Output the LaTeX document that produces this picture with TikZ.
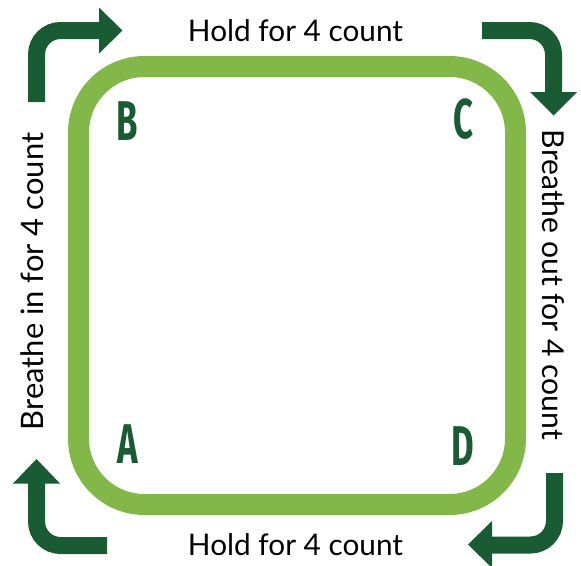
\documentclass[tikz,border=0pt]{standalone}
\usepackage{fontspec}
\usepackage{graphicx}
\setmainfont{Lato}
\newfontfamily\letterfont{Fira Sans}
\definecolor{darkgreen}{HTML}{195C33}
\definecolor{lightgreen}{HTML}{82B847}
\begin{document}
\begin{tikzpicture}[x=1pt,y=-1pt,
  arrowstem/.style={draw=darkgreen,line width=17pt,rounded corners=24pt,line cap=butt},
  arrowhead/.style={fill=darkgreen,draw=none},
  label/.style={inner sep=0pt,anchor=base},
  cornerletter/.style={inner sep=0pt,text=darkgreen,font=\letterfont\bfseries\fontsize{56}{56}\selectfont}]
\useasboundingbox (0,0) rectangle (581,565);
% square
\draw[draw=lightgreen,line width=21pt,rounded corners=66pt] (78.5,66.5) rectangle (515.5,504.5);
% named arrow points
\coordinate (tl0) at (36.5,102);
\coordinate (tl1) at (36.5,30.5);
\coordinate (tl2) at (99.5,30.5);
\coordinate (tr0) at (482,30.5);
\coordinate (tr1) at (553.5,30.5);
\coordinate (tr2) at (553.5,92.5);
\coordinate (br0) at (554.5,473);
\coordinate (br1) at (554.5,545);
\coordinate (br2) at (491.5,545);
\coordinate (bl0) at (107,545.5);
\coordinate (bl1) at (36.5,545.5);
\coordinate (bl2) at (36.5,483);
% top-left arrow
\draw[arrowstem] (tl0) -- (tl1) -- (tl2);
\fill[arrowhead] (99,7.5) -- (122.5,30.5) -- (99,53.5) -- cycle;
% top-right arrow
\draw[arrowstem] (tr0) -- (tr1) -- (tr2);
\fill[arrowhead] (530,92) -- (553.5,115.5) -- (577,92) -- cycle;
% bottom-right arrow
\draw[arrowstem] (br0) -- (br1) -- (br2);
\fill[arrowhead] (492,521) -- (468,544.5) -- (492,568) -- cycle;
% bottom-left arrow
\draw[arrowstem] (bl0) -- (bl1) -- (bl2);
\fill[arrowhead] (13,483.5) -- (36.5,459) -- (60,483.5) -- cycle;
% labels
\node[label] (top) at (295.5,41) {\resizebox{215pt}{!}{Hold for 4 count}};
\node[label] (bottom) at (295.5,555) {\resizebox{215pt}{!}{Hold for 4 count}};
\node[label,rotate=90] (left) at (43,281.5) {\resizebox{297pt}{!}{Breathe in for 4 count}};
\node[label,rotate=-90] (right) at (542,285) {\resizebox{310pt}{!}{Breathe out for 4 count}};
% corner letters
\node[cornerletter] (B) at (127.5,121.5) {\scalebox{0.62}[1]{B}};
\node[cornerletter] (C) at (463.5,119) {\scalebox{0.62}[1]{C}};
\node[cornerletter] (D) at (463,446.5) {\scalebox{0.62}[1]{D}};
\node[cornerletter] (A) at (127.5,444) {\scalebox{0.62}[1]{A}};
\end{tikzpicture}
\end{document}
